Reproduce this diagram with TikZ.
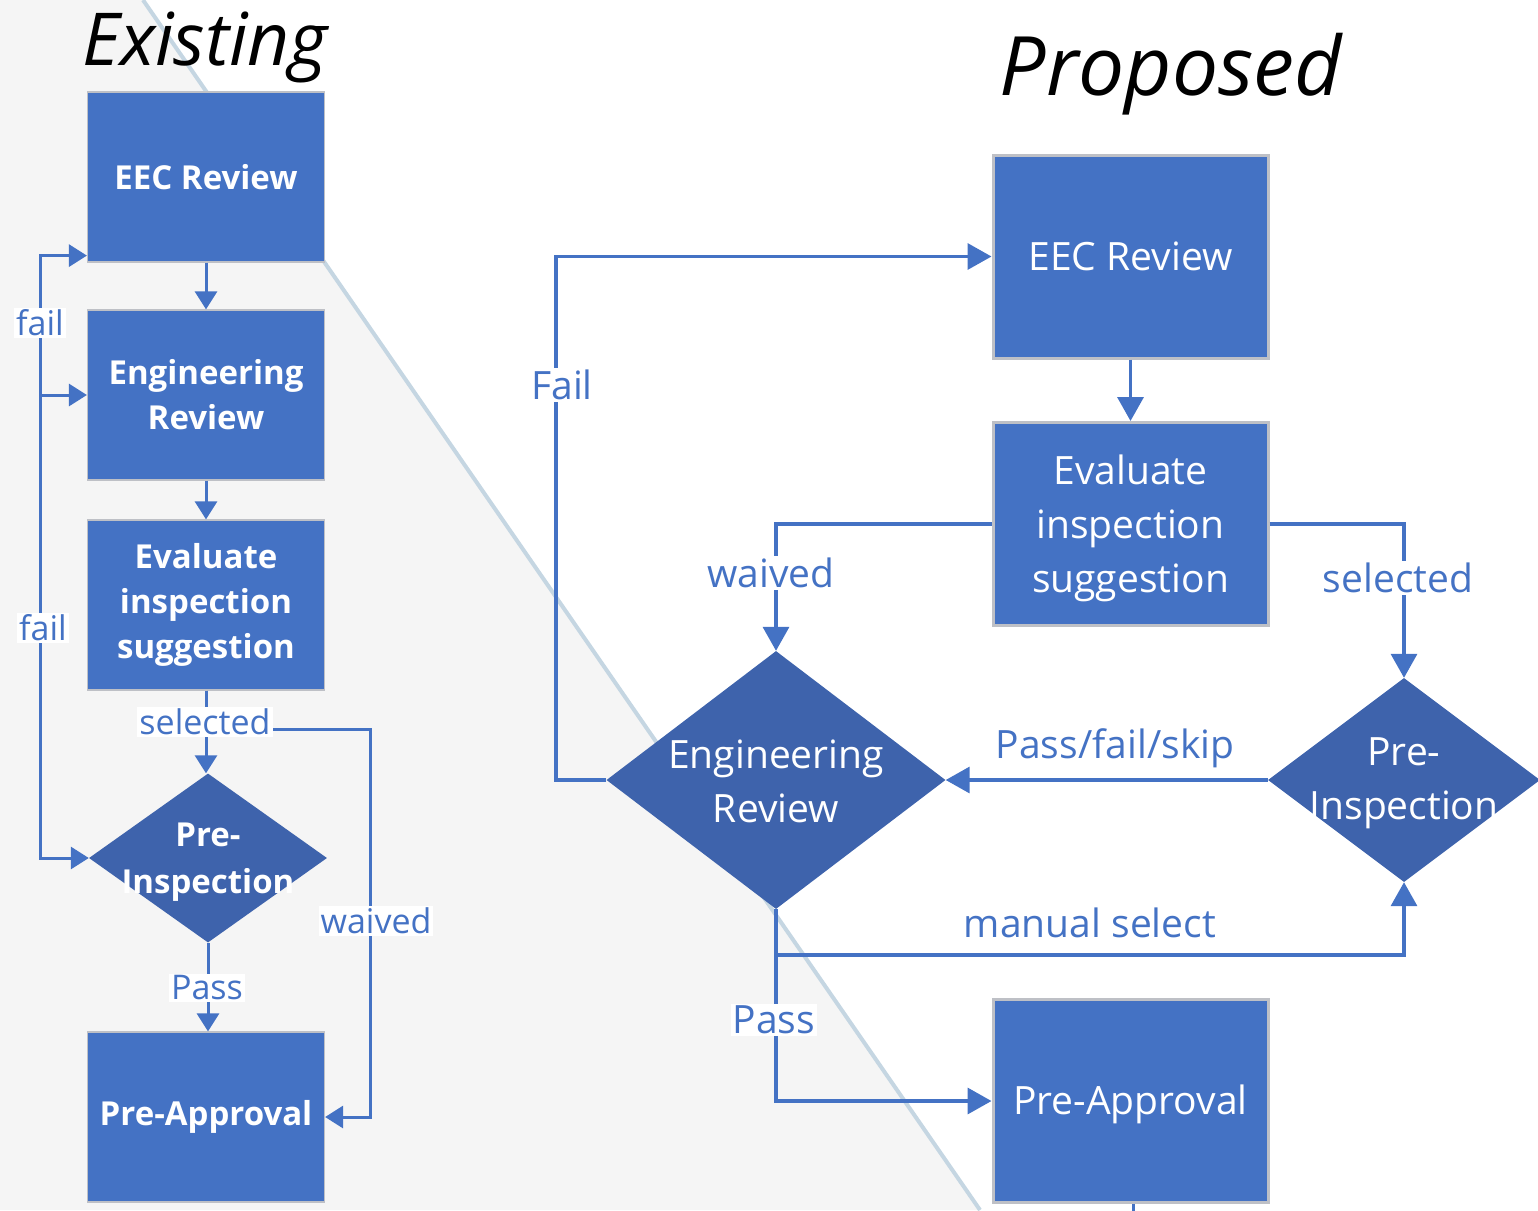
\documentclass[tikz,border=0pt]{standalone}
\usepackage{fontspec}
\setmainfont{Open Sans}
\usetikzlibrary{shapes.geometric,arrows.meta}
\definecolor{boxblue}{RGB}{68,114,196}
\definecolor{diablue}{RGB}{62,99,172}
\definecolor{lineblue}{RGB}{68,114,196}
\definecolor{edgegray}{RGB}{190,192,198}
\definecolor{bggray}{RGB}{245,245,245}
\definecolor{diagline}{RGB}{197,214,226}
\tikzset{
  lbox/.style={rectangle, fill=boxblue, draw=edgegray, line width=1.2pt, inner sep=0pt,
    minimum width=237, minimum height=170, text=white, align=center,
    font=\fontsize{33}{45}\selectfont\bfseries},
  rbox/.style={rectangle, fill=boxblue, draw=edgegray, line width=3pt, inner sep=0pt,
    minimum width=275, minimum height=203, text=white, align=center,
    font=\fontsize{39}{54}\selectfont},
  dshape/.style={diamond, fill=diablue, inner sep=0pt},
  ltext/.style={text=white, align=center, font=\fontsize{33}{47}\selectfont\bfseries},
  rtext/.style={text=white, align=center, font=\fontsize{39}{54}\selectfont},
  llab/.style={fill=white, text=lineblue, inner sep=2pt, font=\fontsize{34}{40}\selectfont},
  rlab/.style={fill=white, text=lineblue, inner sep=2pt, font=\fontsize{39}{46}\selectfont},
  arrL/.style={draw=lineblue, line width=3pt, -{Triangle[length=18pt,width=22pt]}},
  arrR/.style={draw=lineblue, line width=3.5pt, -{Triangle[length=24pt,width=26pt]}},
  titletext/.style={anchor=base, text=black, font=\itshape},
}
\begin{document}
\begin{tikzpicture}[x=1pt,y=-1pt]
\useasboundingbox (0,0) rectangle (1538,1210);
% background
\fill[bggray] (0,0) -- (143,0) -- (980,1210) -- (0,1210) -- cycle;
\draw[diagline, line width=4pt] (143,0) -- (980,1210);

% titles
\node[titletext, font=\fontsize{73}{80}\selectfont\itshape] (tExist) at (205,65) {Existing};
\node[titletext, font=\fontsize{82}{90}\selectfont\itshape] (tProp) at (1171,95) {Proposed};

% ---------- Existing ----------
\node[lbox] (eecL) at (206,177) {EEC Review};
\node[lbox] (engL) at (206,395) {Engineering\\Review};
\node[lbox] (evalL) at (206,605) {Evaluate\\inspection\\suggestion};
\node[dshape, minimum width=238, minimum height=169] (preInsL) at (208,858) {};
\node[ltext] (preInsLt) at ([yshift=-4pt]preInsL.center) {Pre-\\Inspection};
\node[lbox] (preAppL) at (206,1117) {Pre-Approval};

\draw[arrL] (eecL.south) -- (engL.north);
\draw[arrL] (engL.south) -- (evalL.north);
\draw[arrL] (evalL.south) -- (evalL.south |- preInsL.north);
\draw[arrL] (evalL.south) |- (370,729) |- (preAppL.east);
\draw[arrL] (preInsL.south) -- (preInsL.south |- preAppL.north);
\coordinate (railJ) at (40,395);
\draw[arrL, {Triangle[length=18pt,width=22pt]}-{Triangle[length=18pt,width=22pt]}] (engL.west) -- (railJ) |- (preInsL.west);
\draw[arrL] (railJ) |- ([yshift=7pt]eecL.south west);

\node[llab] (lFail1) at (40,323) {fail};
\node[llab] (lFail2) at (43,628) {fail};
\node[llab] (lSel) at (205,722) {selected};
\node[llab] (lWaiv) at (376,921) {waived};
\node[llab] (lPass) at (207,988) {Pass};

% ---------- Proposed ----------
\node[rbox] (eecR) at (1130.5,256.5) {EEC Review};
\node[rbox] (evalR) at (1130.5,524) {};
\node[rtext] (evalRt) at (1130.5,528) {Evaluate\\inspection\\suggestion};
\node[dshape, minimum width=339, minimum height=258] (engR) at (776,780) {};
\node[rtext] (engRt) at ([yshift=-1pt]engR.center) {Engineering\\Review};
\node[dshape, minimum width=272, minimum height=204] (preInsR) at (1404,780) {};
\node[rtext] (preInsRt) at ([yshift=-3pt]preInsR.center) {Pre-\\Inspection};
\node[rbox] (preAppR) at (1130.5,1101) {};
\node[rtext] (preAppRt) at (1130.5,1104) {Pre-Approval};

\draw[arrR] (eecR.south) -- (evalR.north);
\draw[arrR] (evalR.west) -| (engR.north);
\draw[arrR] (evalR.east) -| (preInsR.north);
\draw[arrR] (preInsR.west) -- (engR.east);
\draw[arrR] (engR.west) -- (556,780) |- (eecR.west);
\draw[arrR] (engR.south) -- (776,955) -| (preInsR.south);
\draw[arrR] (engR.south) |- (preAppR.west);
\coordinate (tickEnd) at (1133,1212);
\draw[draw=lineblue, line width=3pt] (preAppR.south -| tickEnd) -- (tickEnd);

\node[rlab] (rWaiv) at (771,573) {waived};
\node[rlab] (rSel) at (1398,578) {selected};
\node[rlab] (rPFS) at (1115,748) {Pass/fail/skip};
\node[rlab] (rFail) at (562,385) {Fail};
\node[rlab] (rMan) at (1090,923) {manual select};
\node[rlab] (rPass) at (774,1020) {Pass};
\end{tikzpicture}
\end{document}
